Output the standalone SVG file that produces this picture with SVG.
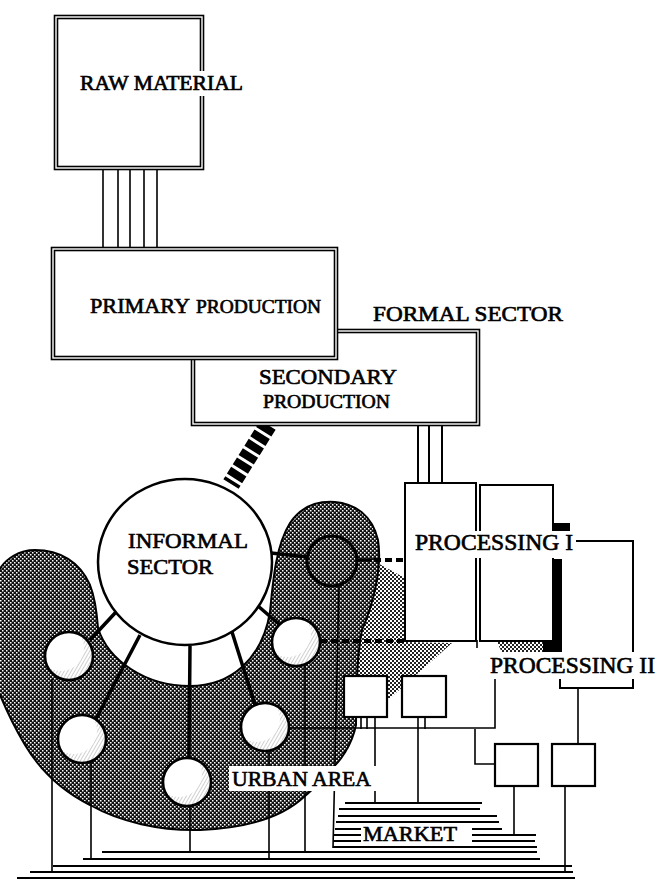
<svg xmlns="http://www.w3.org/2000/svg" width="660" height="885" viewBox="0 0 660 885">
<defs>
<style>
text{font-family:"Liberation Serif","Times New Roman",serif;fill:#000;stroke:#000;stroke-width:0.65;}
.box2{fill:#fff;stroke:#000;stroke-width:4.6;}
.box2i{fill:none;stroke:#fff;stroke-width:1.4;}
.pbox{fill:#fff;stroke:#000;stroke-width:2;}
.sbox{fill:#fff;stroke:#000;stroke-width:2.2;}
.ln{fill:none;stroke:#000;stroke-width:1.6;}
.mk{fill:none;stroke:#000;stroke-width:2;}
.thick{fill:none;stroke:#000;stroke-width:3.5;}
.dash{fill:none;stroke:#000;stroke-width:4;stroke-dasharray:7 4;}
.bg{fill:#fff;}
</style>
<pattern id="dark" width="4" height="4" patternUnits="userSpaceOnUse">
<rect width="4" height="4" fill="#111"/>
<rect x="0" y="0" width="1.5" height="1.5" fill="#fff"/>
<rect x="2" y="2" width="1.5" height="1.5" fill="#fff"/>
</pattern>
<pattern id="light" width="4" height="4" patternUnits="userSpaceOnUse">
<rect width="4" height="4" fill="#fff"/>
<rect x="0" y="0" width="2" height="2" fill="#222"/>
<rect x="2" y="2" width="2" height="2" fill="#222"/>
</pattern>
<pattern id="hatch" width="3" height="3" patternUnits="userSpaceOnUse" patternTransform="rotate(30)">
<line x1="0" y1="0" x2="0" y2="3" stroke="#8a8a8a" stroke-width="0.8"/>
</pattern>
<clipPath id="cc"><circle r="23"/></clipPath>
<g id="sc">
<circle r="24" fill="#fff"/>
<g clip-path="url(#cc)"><circle r="24" fill="url(#hatch)"/><circle cx="-8" cy="-8" r="23" fill="#fff"/></g>
<circle r="24" fill="none" stroke="#000" stroke-width="2.6"/>
</g>
</defs>

<rect width="660" height="885" fill="#fff"/>

<!-- urban area background shapes -->
<g id="urban-area">
<polygon points="372,560 405,578 405,642 452,643 388,700 350,722 345,600" fill="url(#light)"/>
<polygon points="497,642 545,642 545,655 503,655" fill="url(#light)"/>
<path d="M -2,572 C 5,558 20,550 35,550 C 60,550 80,562 90,585 C 96,600 97,615 98,628 C 108,660 145,686 190,686 C 230,686 262,660 270,612 C 273,580 276,545 290,523 C 302,505 320,501 335,502 C 355,504 372,515 378,540 C 382,565 375,600 362,630 C 356,660 356,700 356,725 C 352,745 340,762 330,770 C 320,780 315,788 305,796 C 285,815 250,828 200,830 C 160,831 120,822 90,805 C 60,790 40,770 25,745 C 10,720 2,700 -2,690 Z" fill="url(#dark)" stroke="#000" stroke-width="2"/>
</g>

<!-- connectors -->
<g id="connectors">
<!-- raw material to primary -->
<path class="ln" d="M103,168V249 M118,168V249 M130,168V249 M144,168V249 M157,168V249"/>
<!-- secondary to processing I -->
<path class="mk" d="M418,424V484 M429,424V484 M442,424V484"/>
<!-- secondary to informal sector band -->
<line x1="268" y1="425" x2="231" y2="484" stroke="#000" stroke-width="18" stroke-dasharray="8 3"/>
<!-- informal to small circles -->
<path class="thick" d="M116,612L90,640 M140,635L96,719 M190,646L189,758 M232,632L255,705 M258,606L280,625 M271,553L308,557"/>
<!-- dashed to processing I -->
<path class="thick" d="M356,560H372"/>
<path class="dash" d="M374,560H405"/>
<path class="dash" d="M320,641H405"/>
<!-- drops to market -->
<path class="ln" d="M52,679V872 M91,762V859 M190,806V851 M269,750V859 M305,666V853 M339,585L333,848"/>
<path class="ln" d="M289,728H495V678 M475,729V764H495"/>
<path class="ln" d="M361,717V729 M367,717V729 M375,717V803 M418,717V803 M425,717V729"/>
<path class="ln" d="M514,786V835 M565,786V873 M578,688V744"/>
<path class="ln" d="M477,640V648"/>
</g>

<!-- nodes -->
<g id="raw-material">
<rect class="box2" x="56" y="17" width="146" height="151"/>
<rect class="box2i" x="56" y="17" width="146" height="151"/>
<rect class="bg" x="77" y="71" width="170" height="25"/>
<text x="80" y="90" font-size="20" textLength="163" lengthAdjust="spacingAndGlyphs">RAW MATERIAL</text>
</g>

<g id="secondary-production">
<rect class="box2" x="193" y="331" width="285" height="93"/>
<rect class="box2i" x="193" y="331" width="285" height="93"/>
<text x="259" y="384" font-size="22" textLength="138" lengthAdjust="spacingAndGlyphs">SECONDARY</text>
<text x="263" y="408" font-size="19" textLength="127" lengthAdjust="spacingAndGlyphs">PRODUCTION</text>
</g>

<g id="primary-production">
<rect class="box2" x="53" y="249" width="283" height="109"/>
<rect class="box2i" x="53" y="249" width="283" height="109"/>
<text x="90" y="313" font-size="22" textLength="100" lengthAdjust="spacingAndGlyphs">PRIMARY</text>
<text x="196" y="313" font-size="18.5" textLength="125" lengthAdjust="spacingAndGlyphs">PRODUCTION</text>
</g>

<g id="formal-sector">
<text x="373" y="321" font-size="21.5" textLength="190" lengthAdjust="spacingAndGlyphs">FORMAL SECTOR</text>
</g>

<g id="processing-ii">
<path class="pbox" d="M548,541H633V688H560V653"/>
</g>

<g id="processing-i">
<rect class="pbox" x="405" y="483" width="71" height="158"/>
<rect class="pbox" x="480" y="485" width="73" height="156"/>
<path d="M553,523H570V534H553Z M552,559H562V654H543V641H552Z" fill="#000"/>
<rect class="bg" x="413" y="531" width="163" height="27"/>
<text x="415" y="550" font-size="23" textLength="158" lengthAdjust="spacingAndGlyphs">PROCESSING I</text>
</g>

<g id="processing-ii-label">
<rect class="bg" x="487" y="652" width="170" height="27"/>
<text x="490" y="673" font-size="23" textLength="165" lengthAdjust="spacingAndGlyphs">PROCESSING II</text>
</g>

<g id="informal-sector">
<ellipse cx="185" cy="562" rx="87" ry="83" fill="#fff" stroke="#000" stroke-width="2.5"/>
<text x="128" y="548" font-size="22" textLength="120" lengthAdjust="spacingAndGlyphs">INFORMAL</text>
<text x="127" y="574" font-size="22" textLength="86" lengthAdjust="spacingAndGlyphs">SECTOR</text>
</g>

<g id="unit-a"><use href="#sc" x="69" y="656"/></g>
<g id="unit-b"><use href="#sc" x="82" y="739"/></g>
<g id="unit-c"><use href="#sc" x="187" y="782"/></g>
<g id="unit-d"><use href="#sc" x="265" y="727"/></g>
<g id="unit-e"><use href="#sc" x="296" y="642"/></g>
<g id="unit-f"><circle cx="332" cy="561" r="25" fill="none" stroke="#000" stroke-width="3"/></g>

<g id="box-1"><rect class="sbox" x="344" y="676" width="43" height="41"/></g>
<g id="box-2"><rect class="sbox" x="402" y="676" width="44" height="41"/></g>
<g id="box-3"><rect class="sbox" x="495" y="744" width="43" height="42"/></g>
<g id="box-4"><rect class="sbox" x="552" y="744" width="43" height="42"/></g>

<g id="urban-area-label">
<rect class="bg" x="229" y="766" width="147" height="25"/>
<text x="232" y="786" font-size="21.5" textLength="139" lengthAdjust="spacingAndGlyphs">URBAN AREA</text>
</g>

<g id="market">
<path class="mk" d="M345,803H482 M339,809H480 M338,816H497 M336,822H499 M335,829H502 M333,835H536 M333,841H535 M333,847H537 M102,852H537 M83,859H540 M53,866H572 M30,872H573 M17,878H575"/>
<rect class="bg" x="361" y="825" width="111" height="20"/>
<text x="363" y="841" font-size="22" textLength="94" lengthAdjust="spacingAndGlyphs">MARKET</text>
</g>
</svg>
